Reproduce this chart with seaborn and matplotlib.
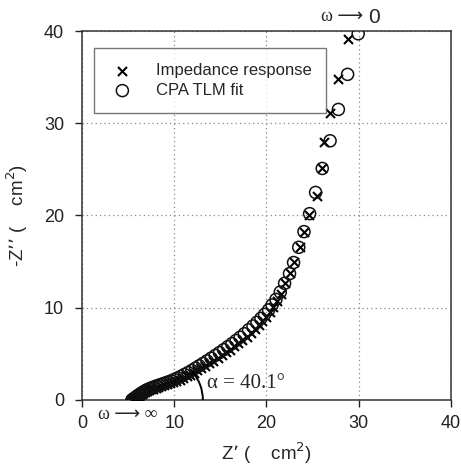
import matplotlib
matplotlib.use("Agg")
import matplotlib.pyplot as plt
from matplotlib.patches import Arc
import seaborn as sns
import pandas as pd

# Impedance response (crosses)
imp_x = [28.83, 27.71, 26.85, 26.27, 26.0, 25.47, 24.64, 24.03, 23.67, 23.0, 22.5, 21.97,
         21.6, 21.15, 20.75, 20.35, 19.95, 19.55, 19.15, 18.75, 18.3, 17.85, 17.4, 16.95,
         16.5, 16.05, 15.6, 15.15, 14.7, 14.25, 13.8, 13.37, 12.95, 12.52, 12.12, 11.72,
         11.33, 10.95, 10.58, 10.22, 9.87, 9.53, 9.2, 8.88, 8.57, 8.28, 8.0, 7.73, 7.48,
         7.25, 7.03, 6.83, 6.65, 6.48, 6.32, 6.18, 6.04, 5.92, 5.8, 5.7, 5.62, 5.55, 5.5, 5.47,
         5.45, 5.44]
imp_y = [39.17, 34.8, 31.07, 28.0, 25.1, 22.15, 20.05, 18.25, 16.55, 15.0, 13.8, 12.65,
         11.5, 10.7, 10.05, 9.5, 9.0, 8.55, 8.1, 7.7, 7.28, 6.88, 6.5, 6.14,
         5.8, 5.47, 5.15, 4.84, 4.54, 4.25, 3.97, 3.7, 3.45, 3.2, 2.97, 2.75,
         2.55, 2.37, 2.2, 2.05, 1.92, 1.8, 1.7, 1.6, 1.5, 1.41, 1.32, 1.23, 1.14,
         1.05, 0.96, 0.86, 0.76, 0.66, 0.56, 0.47, 0.38, 0.3, 0.22, 0.15, 0.09, 0.04, 0.02, 0.01,
         0.0, 0.0]

# CPA TLM fit (circles)
fit_x = [29.95, 28.8, 27.8, 26.9, 26.05, 25.33, 24.68, 24.07, 23.5, 22.94, 22.5, 21.97,
         21.5, 21.03, 20.6, 20.23, 19.8, 19.4, 18.97, 18.54, 18.06, 17.6, 17.15, 16.7,
         16.25, 15.8, 15.35, 14.9, 14.45, 14.0, 13.55, 13.12, 12.7, 12.3, 11.9, 11.5,
         11.1, 10.72, 10.35, 10.0, 9.65, 9.3, 8.97, 8.65, 8.35, 8.05, 7.78, 7.52, 7.28,
         7.06, 6.86, 6.68, 6.5, 6.34, 6.18, 6.04, 5.92, 5.8, 5.7, 5.62, 5.55, 5.5, 5.47, 5.45,
         5.44, 5.43]
fit_y = [39.7, 35.3, 31.5, 28.1, 25.1, 22.5, 20.2, 18.25, 16.55, 14.9, 13.7, 12.65,
         11.7, 10.9, 10.3, 9.76, 9.29, 8.85, 8.42, 8.02, 7.6, 7.18, 6.8, 6.45,
         6.1, 5.77, 5.45, 5.13, 4.83, 4.53, 4.24, 3.96, 3.7, 3.45, 3.2, 2.97,
         2.76, 2.56, 2.38, 2.22, 2.07, 1.94, 1.82, 1.71, 1.61, 1.51, 1.41, 1.31, 1.21,
         1.11, 1.0, 0.89, 0.78, 0.67, 0.56, 0.46, 0.37, 0.28, 0.2, 0.13, 0.07, 0.03, 0.01, 0.0,
         0.0, 0.0]

ticks = [0, 10, 20, 30, 40]

sns.set_theme(style="white")
plt.rcParams['font.family'] = ['Liberation Sans', 'DejaVu Sans']

fig = plt.figure(figsize=(4.61, 4.70), dpi=100)
ax = fig.add_axes([0.178, 0.149, 0.80, 0.785])

imp = pd.DataFrame({"x": imp_x, "y": imp_y})
fit = pd.DataFrame({"x": fit_x, "y": fit_y})

sns.scatterplot(data=imp, x="x", y="y", ax=ax, marker="x", s=42, color="black",
                linewidth=1.5, label="Impedance response", zorder=3)
sns.scatterplot(data=fit, x="x", y="y", ax=ax, marker="o", s=75, facecolors="none",
                edgecolors="#111111", linewidth=1.1, label="CPA TLM fit", zorder=3)

ax.set_xlim(0, 40)
ax.set_ylim(0, 40)
ax.set_xticks(ticks)
ax.set_yticks(ticks)
ax.grid(True, linestyle=(0, (1, 2.5)), color="#888888", linewidth=0.9)
ax.set_axisbelow(True)
ax.tick_params(axis="both", which="both", direction="out", length=5, width=1,
               labelsize=13, colors="#222222", bottom=True, left=True, top=False, right=False)
ax.tick_params(axis="x", pad=6)
ax.tick_params(axis="y", pad=8)
for s in ax.spines.values():
    s.set_color("#333333")
    s.set_linewidth(1.1)

ax.set_xlabel("Z’ (    cm$^{2}$)", fontsize=13.5, labelpad=6)
ax.set_ylabel("-Z’’ (    cm$^{2}$)", fontsize=13.5, labelpad=10)

leg = ax.legend(loc="upper left", bbox_to_anchor=(0.0325, 0.954), borderaxespad=0,
                fontsize=12, frameon=True, fancybox=False, borderpad=0.9,
                handletextpad=1.2, labelspacing=0.3, handlelength=1.6)
leg.get_frame().set_edgecolor("#555555")
leg.get_frame().set_linewidth(1.0)

ax.text(31.0, 40.6, "ω ⟶ ", family=["Liberation Serif", "DejaVu Sans"], fontsize=13,
        ha="right", va="bottom", clip_on=False)
ax.text(31.0, 40.4, "0", fontsize=15, ha="left", va="bottom", clip_on=False)
ax.text(5.0, -0.6, "ω ⟶ ∞", family=["Liberation Serif", "DejaVu Sans"], fontsize=13,
        ha="center", va="top", clip_on=False)
ax.text(13.6, 1.8, "α = 40.1°", family=["Liberation Serif", "DejaVu Serif"], fontsize=15,
        ha="left", va="center")
ax.add_patch(Arc((8.4, 0), 9.4, 9.4, theta1=0, theta2=40, color="black", linewidth=1.4, zorder=4))

fig.savefig("out.png", dpi=100)
